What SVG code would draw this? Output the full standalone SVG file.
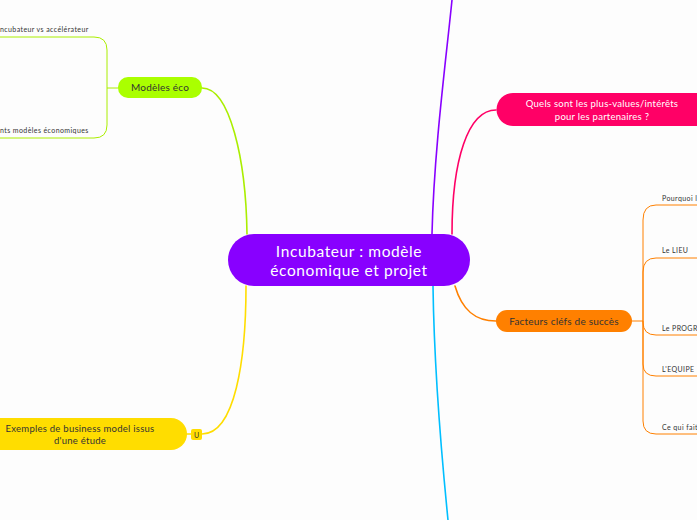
<svg xmlns="http://www.w3.org/2000/svg" width="697" height="520" viewBox="0 0 697 520">
<style>
  .t { font-family: Lato, "Open Sans", sans-serif; }
  .dark { fill: #333333; }
  .lbl { font-family: Lato, "Open Sans", sans-serif; font-size: 7px; fill: #333333; letter-spacing: 0.4px; }
  .conn { fill: none; stroke-width: 1.6; stroke-linecap: round; }
  .br { fill: none; stroke-width: 1; }
</style>
<rect width="697" height="520" fill="#fdfdfd"/>
<g id="connectors">
  <path class="conn" stroke="#8800ff" d="M452,0 C446,60 434,150 432,234"/>
  <path class="conn" stroke="#00bfff" d="M433,286 C434,360 440,440 448,520"/>
  <path class="conn" stroke="#aaee00" d="M202,88 C230,88 246,160 247,234"/>
  <path class="conn" stroke="#ffdd00" d="M202,434 C235,434 246,360 246,286"/>
  <path class="conn" stroke="#ff0066" d="M496,110 C468,110 452,160 452,234"/>
  <path class="conn" stroke="#ff8000" d="M455,286 C462,310 475,321 496,321"/>
  <path class="conn" stroke="#ffdd00" d="M187,434 L191,434"/>
  <g stroke="#aaee00" class="br">
    <path d="M118,88 L107,88"/>
    <path d="M107,88 L107,50 Q107,37 94,37 L0,37"/>
    <path d="M107,88 L107,125 Q107,138 94,138 L0,138"/>
  </g>
  <g stroke="#ff8000" class="br">
    <path d="M632,321 L643,321"/>
    <path d="M643,321 L643,220 Q643,205 656,205 L697,205"/>
    <path d="M643,321 L643,272 Q643,258 656,258 L697,258"/>
    <path d="M643,321 L643,322 Q643,335 656,335 L697,335"/>
    <path d="M643,321 L643,364 Q643,376 656,376 L697,376"/>
    <path d="M643,321 L643,421 Q643,434 656,434 L697,434"/>
  </g>
</g>
<g id="central">
  <rect x="228" y="234" width="242" height="52" rx="26" fill="#8800ff"/>
  <text class="t" x="349" y="257" font-size="15.5" letter-spacing="0.6" fill="#ffffff" text-anchor="middle">Incubateur : modèle</text>
  <text class="t" x="349" y="276" font-size="15.5" letter-spacing="0.6" fill="#ffffff" text-anchor="middle">économique et projet</text>
</g>
<g id="modeles-eco">
  <rect x="118" y="77" width="84" height="21" rx="10" fill="#aaff00"/>
  <text class="t dark" x="160" y="91" font-size="10" letter-spacing="0.2" text-anchor="middle">Modèles éco</text>
</g>
<g id="incubateur-vs">
  <text class="lbl" x="0" y="32">ncubateur vs accélérateur</text>
</g>
<g id="differents-modeles">
  <text class="lbl" x="0" y="133">nts modèles économiques</text>
</g>
<g id="exemples">
  <path d="M-20,418 L171,418 A16,16 0 0 1 187,434 A16,16 0 0 1 171,450 L-20,450 Z" fill="#ffdd00"/>
  <text class="t dark" x="80" y="432" font-size="9.5" letter-spacing="0.25" text-anchor="middle">Exemples de business model issus</text>
  <text class="t dark" x="80" y="444" font-size="9.5" letter-spacing="0.25" text-anchor="middle">d'une étude</text>
  <rect x="191" y="429" width="11" height="11" rx="2" fill="#ffdd00"/>
  <text class="t dark" x="196.5" y="437.5" font-size="7" text-anchor="middle">U</text>
</g>
<g id="plus-values">
  <path d="M513,93 L710,93 L710,126 L513,126 A16.5,16.5 0 0 1 513,93 Z" fill="#ff0066"/>
  <text class="t" x="602" y="107" font-size="9.5" letter-spacing="0.25" fill="#ffffff" text-anchor="middle">Quels sont les plus-values/intérêts</text>
  <text class="t" x="602" y="120" font-size="9.5" letter-spacing="0.25" fill="#ffffff" text-anchor="middle">pour les partenaires ?</text>
</g>
<g id="facteurs">
  <rect x="496" y="310" width="136" height="22" rx="11" fill="#ff8000"/>
  <text class="t dark" x="564" y="324.5" font-size="10" letter-spacing="0.2" text-anchor="middle">Facteurs cléfs de succès</text>
</g>
<g id="pourquoi"><text class="lbl" x="662" y="201">Pourquoi l</text></g>
<g id="lieu"><text class="lbl" x="662" y="253">Le LIEU</text></g>
<g id="programme"><text class="lbl" x="662" y="331">Le PROGR</text></g>
<g id="equipe"><text class="lbl" x="662" y="372">L'EQUIPE</text></g>
<g id="ce-qui-fait"><text class="lbl" x="662" y="430">Ce qui fait</text></g>
</svg>
